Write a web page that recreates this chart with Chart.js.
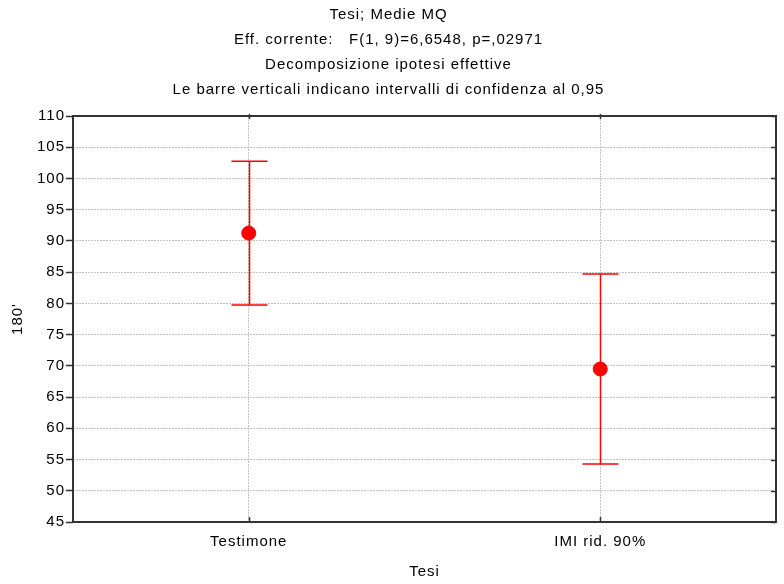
<!DOCTYPE html>
<html>
<head>
<meta charset="utf-8">
<script src="https://cdn.jsdelivr.net/npm/chart.js@4/dist/chart.umd.min.js"></script>
<style>
  html, body { margin: 0; padding: 0; background: #fff; }
  canvas { display: block; }
</style>
</head>
<body>
<canvas id="chart" width="784" height="584"></canvas>
<script>
// categories and values
const categories = ['Testimone', 'IMI rid. 90%']
const means = [91.25, 69.5]
const lowerCI = [79.75, 54.3]
const upperCI = [102.75, 84.7]
const titleLines = [
  'Tesi; Medie MQ',
  'Eff. corrente:   F(1, 9)=6,6548, p=,02971',
  'Decomposizione ipotesi effettive',
  'Le barre verticali indicano intervalli di confidenza al 0,95'
]
const yMin = 45
const yMax = 110
const yStep = 5

const RED = '#ff0000'
const FONT = 'Liberation Sans, Arial, sans-serif'

// the original text is a bit wider than Arial, spread it slightly
const spacingPlugin = {
  id: 'spacing',
  beforeUpdate(chart) { chart.ctx.letterSpacing = '1px' },
  beforeDraw(chart) { chart.ctx.letterSpacing = '1px' }
}

// frame round the plot + inward tick marks on right/top/bottom
const framePlugin = {
  id: 'frame',
  beforeDatasetsDraw(chart) {
    const { ctx, chartArea: a, scales } = chart
    ctx.save()
    ctx.strokeStyle = '#333'
    ctx.lineWidth = 1.5
    ctx.beginPath()
    scales.y.ticks.forEach(t => {
      const y = Math.round(scales.y.getPixelForValue(t.value)) + 0.5
      ctx.moveTo(a.right - 5, y)
      ctx.lineTo(a.right, y)
    })
    categories.forEach((c, i) => {
      const x = Math.round(scales.x.getPixelForValue(i)) + 0.5
      ctx.moveTo(x, a.bottom - 5)
      ctx.lineTo(x, a.bottom)
      ctx.moveTo(x, a.top - 2)
      ctx.lineTo(x, a.top + 3)
    })
    ctx.stroke()
    ctx.lineWidth = 2
    ctx.strokeRect(a.left, a.top, a.right - a.left, a.bottom - a.top)
    ctx.restore()
  }
}

// confidence interval whiskers
const errorBarPlugin = {
  id: 'errorBars',
  beforeDatasetsDraw(chart) {
    const { ctx, scales } = chart
    ctx.save()
    ctx.strokeStyle = RED
    ctx.lineWidth = 1.5
    categories.forEach((c, i) => {
      const x = Math.round(scales.x.getPixelForValue(i)) + 0.5
      const yLo = scales.y.getPixelForValue(lowerCI[i])
      const yHi = scales.y.getPixelForValue(upperCI[i])
      ctx.beginPath()
      ctx.moveTo(x, yLo)
      ctx.lineTo(x, yHi)
      ctx.moveTo(x - 18, yLo)
      ctx.lineTo(x + 18, yLo)
      ctx.moveTo(x - 18, yHi)
      ctx.lineTo(x + 18, yHi)
      ctx.stroke()
    })
    ctx.restore()
  }
}

const ctx = document.getElementById('chart').getContext('2d')
new Chart(ctx, {
  type: 'line',
  data: {
    labels: categories,
    datasets: [{
      data: means,
      showLine: false,
      pointRadius: 7,
      pointHoverRadius: 7,
      pointBackgroundColor: RED,
      pointBorderColor: RED,
      borderColor: RED
    }]
  },
  options: {
    responsive: false,
    animation: false,
    layout: { padding: { left: 0, right: 7, top: 0, bottom: 0 } },
    plugins: {
      legend: { display: false },
      tooltip: { enabled: false },
      title: {
        display: true,
        text: titleLines,
        color: '#000',
        font: { family: FONT, size: 15, weight: 'normal', lineHeight: 25 / 15 },
        padding: { top: 2, bottom: 14 }
      }
    },
    scales: {
      x: {
        type: 'category',
        offset: true,
        afterFit(scale) { scale.height = 62 },
        grid: {
          offset: false,
          drawTicks: false,
          color: '#c4c4c4',
          lineWidth: 1
        },
        border: { display: false, dash: [2, 1] },
        ticks: {
          color: '#000',
          padding: 11,
          font: { family: FONT, size: 15 }
        },
        title: {
          display: true,
          text: 'Tesi',
          color: '#000',
          font: { family: FONT, size: 15 },
          padding: { top: 0, bottom: 3 }
        }
      },
      y: {
        min: yMin,
        max: yMax,
        afterFit(scale) { scale.width = 73 },
        grid: {
          color: '#c4c4c4',
          lineWidth: 1,
          tickLength: 7,
          tickColor: '#333',
          tickWidth: 1.5
        },
        border: { display: false, dash: [2, 1] },
        ticks: {
          stepSize: yStep,
          color: '#000',
          padding: 1,
          font: { family: FONT, size: 15 }
        },
        title: {
          display: true,
          text: "180'",
          color: '#000',
          font: { family: FONT, size: 15 },
          padding: { top: 9, bottom: 0 }
        }
      }
    }
  },
  plugins: [spacingPlugin, framePlugin, errorBarPlugin]
})
</script>
</body>
</html>
